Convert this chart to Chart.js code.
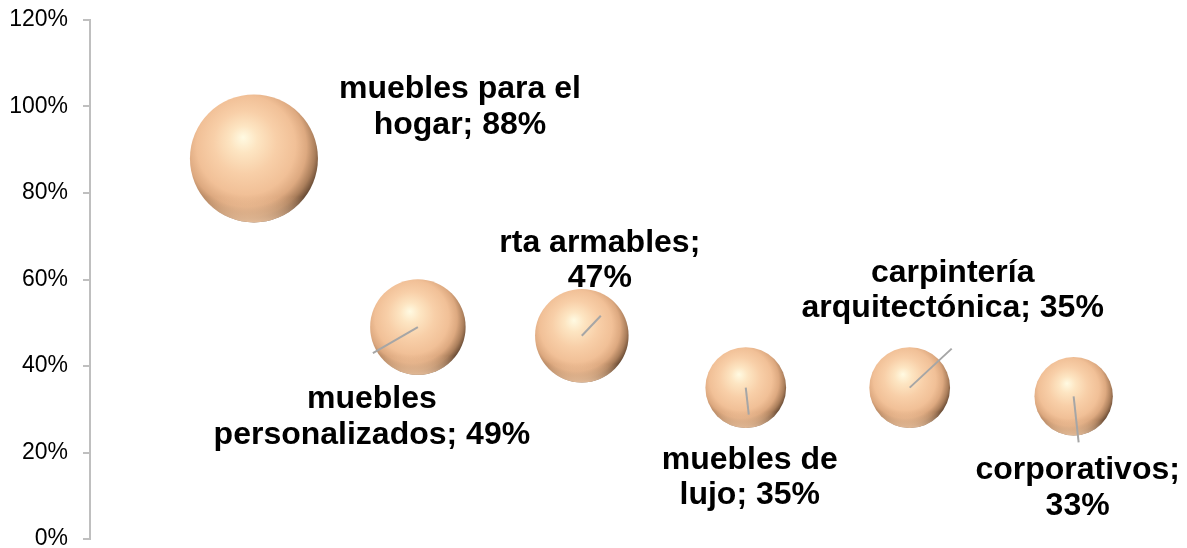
<!DOCTYPE html>
<html>
<head>
<meta charset="utf-8">
<script src="https://cdn.jsdelivr.net/npm/chart.js@4.4.1/dist/chart.umd.min.js"></script>
<style>
    html, body { margin: 0; padding: 0; background: #fff; }
    #wrap { width: 1187px; height: 548px; position: relative; }
</style>
</head>
<body>
<div id="wrap"><canvas id="bubbleChart"></canvas></div>
<script>
// Chart data
const categories = [
    "muebles para el hogar",
    "muebles personalizados",
    "rta armables",
    "muebles de lujo",
    "carpintería arquitectónica",
    "corporativos"
];
const shares = [88, 49, 47, 35, 35, 33];
const yTicks = [0, 20, 40, 60, 80, 100, 120];

// Label layout (words on first line, block offset, leader end) - pixels from bubble centre
const firstLineWords = [3, 1, 2, 2, 1, 1];
const labelOffsets = [[206, -51], [-46, 90], [18, -75], [4, 90], [43, -97], [4, 92]];
const leaderEnds = [null, [-45, 26], [19, -20], [3, 27], [42, -39], [5, 46]];

const MAX_RADIUS = 64;
const maxShare = Math.max(...shares);
const FONT = "'Liberation Sans', Arial, sans-serif";

function bubbleRadius(context) {
    if (!context.raw) return 40;
    return MAX_RADIUS * Math.sqrt(context.raw.y / maxShare);
}

// shaded sphere fill
function sphereFill(context) {
    const chart = context.chart;
    if (!chart.chartArea || !context.raw) return '#F3C197';
    const cx = chart.scales.x.getPixelForValue(context.raw.x);
    const cy = chart.scales.y.getPixelForValue(context.raw.y);
    const r = bubbleRadius(context);
    const g = chart.ctx.createRadialGradient(cx - 0.17 * r, cy - 0.33 * r, 0, cx - 0.1 * r, cy - 0.14 * r, r * 1.17);
    g.addColorStop(0, '#FFFAE2');
    g.addColorStop(0.18, '#FDE5C2');
    g.addColorStop(0.42, '#F8CFA8');
    g.addColorStop(0.66, '#F1C097');
    g.addColorStop(0.8, '#DDA980');
    g.addColorStop(0.91, '#AA7E5B');
    g.addColorStop(1, '#614530');
    return g;
}

const points = shares.map((v, i) => ({ x: i + 1, y: v }));

// bottom reflection, leader lines and the two-line labels
const bubbleLabels = {
    id: 'bubbleLabels',
    afterDatasetsDraw(chart) {
        const ctx = chart.ctx;
        const meta = chart.getDatasetMeta(0);
        ctx.save();
        meta.data.forEach((pt) => {
            const r = pt.options.radius;
            ctx.save();
            ctx.beginPath();
            ctx.arc(pt.x, pt.y, r, 0, Math.PI * 2);
            ctx.clip();
            const lg = ctx.createLinearGradient(pt.x, pt.y + 0.6 * r, pt.x, pt.y + r);
            lg.addColorStop(0, 'rgba(245,200,160,0)');
            lg.addColorStop(1, 'rgba(247,205,168,0.85)');
            ctx.fillStyle = lg;
            ctx.fillRect(pt.x - r, pt.y + 0.6 * r, 2 * r, 0.4 * r + 1);
            ctx.restore();
        });
        meta.data.forEach((pt, i) => {
            const end = leaderEnds[i];
            if (end) {
                ctx.strokeStyle = '#A6A6A6';
                ctx.lineWidth = 2;
                ctx.beginPath();
                ctx.moveTo(pt.x, pt.y);
                ctx.lineTo(pt.x + end[0], pt.y + end[1]);
                ctx.stroke();
            }
            const words = (categories[i] + '; ' + shares[i] + '%').split(' ');
            const lines = [words.slice(0, firstLineWords[i]).join(' '), words.slice(firstLineWords[i]).join(' ')];
            const lx = pt.x + labelOffsets[i][0];
            const ly = pt.y + labelOffsets[i][1];
            ctx.font = 'bold 32px ' + FONT;
            ctx.fillStyle = '#000';
            ctx.textAlign = 'center';
            ctx.textBaseline = 'middle';
            ctx.fillText(lines[0], lx, ly - 17.75);
            ctx.fillText(lines[1], lx, ly + 17.75);
        });
        ctx.restore();
    }
};

new Chart(document.getElementById('bubbleChart'), {
    type: 'bubble',
    data: {
        datasets: [{
            data: points,
            backgroundColor: sphereFill,
            hoverBackgroundColor: sphereFill,
            borderWidth: 0,
            hoverBorderWidth: 0,
            radius: bubbleRadius,
            hoverRadius: 0,
            clip: false
        }]
    },
    options: {
        responsive: true,
        maintainAspectRatio: false,
        animation: false,
        events: [],
        layout: { autoPadding: false, padding: { top: 20, bottom: 9, left: 0, right: 15 } },
        plugins: {
            legend: { display: false },
            tooltip: { enabled: false }
        },
        scales: {
            x: { type: 'linear', min: 0, max: 6.6, display: false },
            y: {
                min: 0,
                max: 120,
                afterBuildTicks: (scale) => { scale.ticks = yTicks.map(v => ({ value: v })); },
                afterFit: (scale) => {
                    scale.width = 90;
                    scale.paddingTop = 0;
                    scale.paddingBottom = 0;
                },
                border: { display: true, color: '#BFBFBF', width: 2 },
                grid: { drawOnChartArea: false, drawTicks: true, tickLength: 7, color: '#BFBFBF', lineWidth: 2 },
                ticks: {
                    padding: 15,
                    color: '#000',
                    font: { family: FONT, size: 23 },
                    callback: (v) => v + '%'
                }
            }
        }
    },
    plugins: [bubbleLabels]
});
</script>
</body>
</html>
